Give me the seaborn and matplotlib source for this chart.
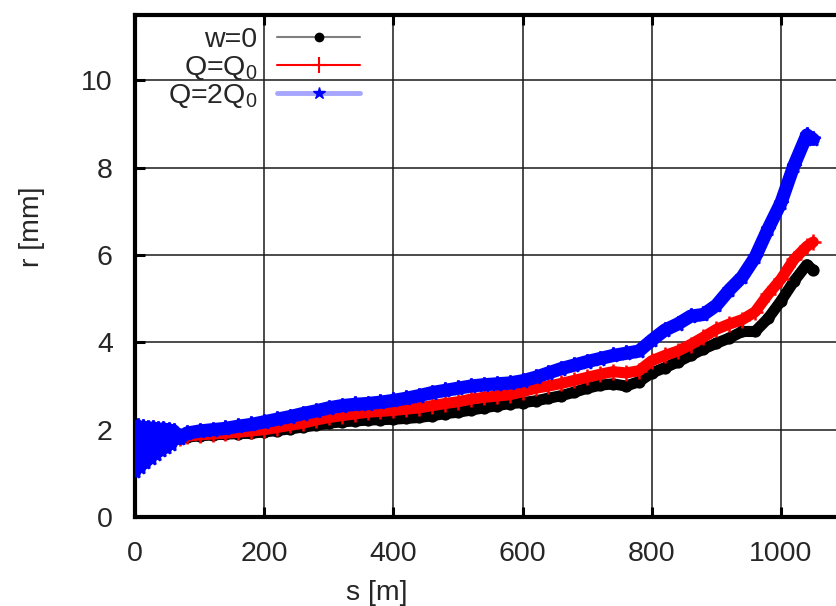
import matplotlib
matplotlib.use("Agg")
import matplotlib.pyplot as plt
from matplotlib.lines import Line2D
import seaborn as sns
import pandas as pd

# beam position s [m] (dense sampling near injection)
s_m = [0, 4, 8, 12, 16, 20, 24, 28, 32, 36, 40, 44, 48, 52, 56, 60, 70,
       80, 100, 120, 140, 160, 180, 200, 220, 240, 260, 280, 300, 320, 340,
       360, 380, 400, 420, 440, 460, 480, 500, 520, 540, 560, 580, 600, 620,
       640, 660, 680, 700, 720, 740, 760, 780, 800, 820, 840, 860, 880, 900,
       920, 940, 960, 980, 1000, 1020, 1040, 1050]

# beam radius r [mm]
r_w0 = [2.0, 1.5, 1.98, 1.6, 1.95, 1.68, 1.93, 1.72, 1.92, 1.76, 1.9, 1.78,
        1.88, 1.8, 1.86, 1.82, 1.82,
        1.83, 1.86, 1.88, 1.9, 1.91, 1.92, 1.95, 1.98, 2.02, 2.06, 2.1, 2.15,
        2.18, 2.2, 2.22, 2.23, 2.24, 2.26, 2.28, 2.32, 2.37, 2.4, 2.45, 2.5,
        2.55, 2.6, 2.62, 2.66, 2.72, 2.78, 2.86, 2.95, 3.02, 3.05, 3.0, 3.1,
        3.3, 3.42, 3.55, 3.7, 3.85, 3.98, 4.1, 4.25, 4.25, 4.55, 4.95, 5.4,
        5.78, 5.65]
r_q0 = [2.05, 1.3, 2.0, 1.4, 2.0, 1.5, 1.98, 1.6, 1.97, 1.68, 1.95, 1.75,
        1.93, 1.78, 1.9, 1.8, 1.82,
        1.85, 1.88, 1.9, 1.92, 1.94, 1.97, 2.0, 2.05, 2.1, 2.15, 2.22, 2.28,
        2.32, 2.36, 2.4, 2.42, 2.44, 2.47, 2.5, 2.55, 2.6, 2.64, 2.7, 2.74,
        2.77, 2.8, 2.87, 2.95, 3.0, 3.06, 3.13, 3.2, 3.27, 3.33, 3.3, 3.35,
        3.58, 3.7, 3.8, 3.95, 4.12, 4.3, 4.42, 4.52, 4.7, 5.1, 5.45, 5.9,
        6.2, 6.3]
r_2q0 = [1.05, 2.08, 1.15, 2.06, 1.25, 2.05, 1.35, 2.04, 1.45, 2.02, 1.53, 2.02,
         1.6, 2.0, 1.68, 1.97, 1.8,
         1.92, 1.97, 2.0, 2.03, 2.08, 2.12, 2.18, 2.24, 2.3, 2.37, 2.43, 2.5,
         2.55, 2.58, 2.6, 2.63, 2.67, 2.72, 2.78, 2.85, 2.9, 2.95, 3.0, 3.03,
         3.05, 3.07, 3.12, 3.2, 3.3, 3.4, 3.48, 3.56, 3.63, 3.7, 3.75, 3.8,
         4.05, 4.28, 4.42, 4.6, 4.64, 4.85, 5.2, 5.5, 5.95, 6.6, 7.2, 8.05,
         8.75, 8.65]

labels = ["w=0", "Q=Q$_0$", "Q=2Q$_0$"]
x_ticks = [0, 200, 400, 600, 800, 1000]
y_ticks = [0, 2, 4, 6, 8, 10]

sns.set_theme(style="white")
plt.rcParams["font.family"] = ["Liberation Sans", "DejaVu Sans"]
plt.rcParams["mathtext.fontset"] = "custom"
plt.rcParams["mathtext.rm"] = "Liberation Sans"
plt.rcParams["mathtext.it"] = "Liberation Sans"

FS = 20.5

fig = plt.figure(figsize=(8.36, 6.06), dpi=100)
ax = fig.add_axes([135 / 836, 89 / 606, 710.6 / 836, 502 / 606])

df = pd.DataFrame({"s": s_m, "w0": r_w0, "q0": r_q0, "q2": r_2q0})

styles = [
    ("w0", "black", "o", 8.0, 7),
    ("q0", "#ff0000", "+", 8.0, 11),
    ("q2", "#0000ff", "*", 9.5, 11),
]
for col, color, mk, lw, ms in styles:
    sns.lineplot(data=df, x="s", y=col, ax=ax, color=color, lw=lw,
                 marker=mk, markersize=ms, markeredgecolor=color,
                 markeredgewidth=1.8, sort=False, estimator=None, zorder=3)

ax.set_xlim(0, 1100)
ax.set_ylim(0, 11.5)
ax.set_xticks(x_ticks)
ax.set_yticks(y_ticks)
ax.set_xlabel("s [m]", fontsize=FS)
ax.set_ylabel("r [mm]", fontsize=FS)
ax.xaxis.set_label_coords(0.34, -0.125)
ax.yaxis.set_label_coords(-0.127, 0.578)

ax.grid(True, color="#1a1a1a", lw=1.1, ls="-")
ax.set_axisbelow(True)
for sp in ax.spines.values():
    sp.set_linewidth(3.0)
    sp.set_color("black")
ax.tick_params(axis="both", which="major", direction="in", length=7,
               width=2.2, color="black", labelsize=FS, pad=16,
               top=True, right=True, bottom=True, left=True)
ax.tick_params(axis="x", pad=17)

handles = [
    Line2D([], [], color="#7f7f7f", lw=1.5, marker="o", markersize=6,
           markerfacecolor="black", markeredgecolor="black"),
    Line2D([], [], color="#ff0000", lw=1.5, marker="+", markersize=11,
           markeredgewidth=1.5),
    Line2D([], [], color="#a6a6ff", lw=3.5, marker="*", markersize=9,
           markerfacecolor="#0000ff", markeredgecolor="#0000ff"),
]
leg = ax.legend(handles, labels, loc="upper right",
                bbox_to_anchor=(360 / 836, 1 - 27 / 606),
                bbox_transform=fig.transFigure, frameon=False,
                markerfirst=False, fontsize=FS, handlelength=2.9,
                handletextpad=0.7, labelspacing=0.02, borderpad=0,
                borderaxespad=0)

fig.savefig("out.png", dpi=100)
